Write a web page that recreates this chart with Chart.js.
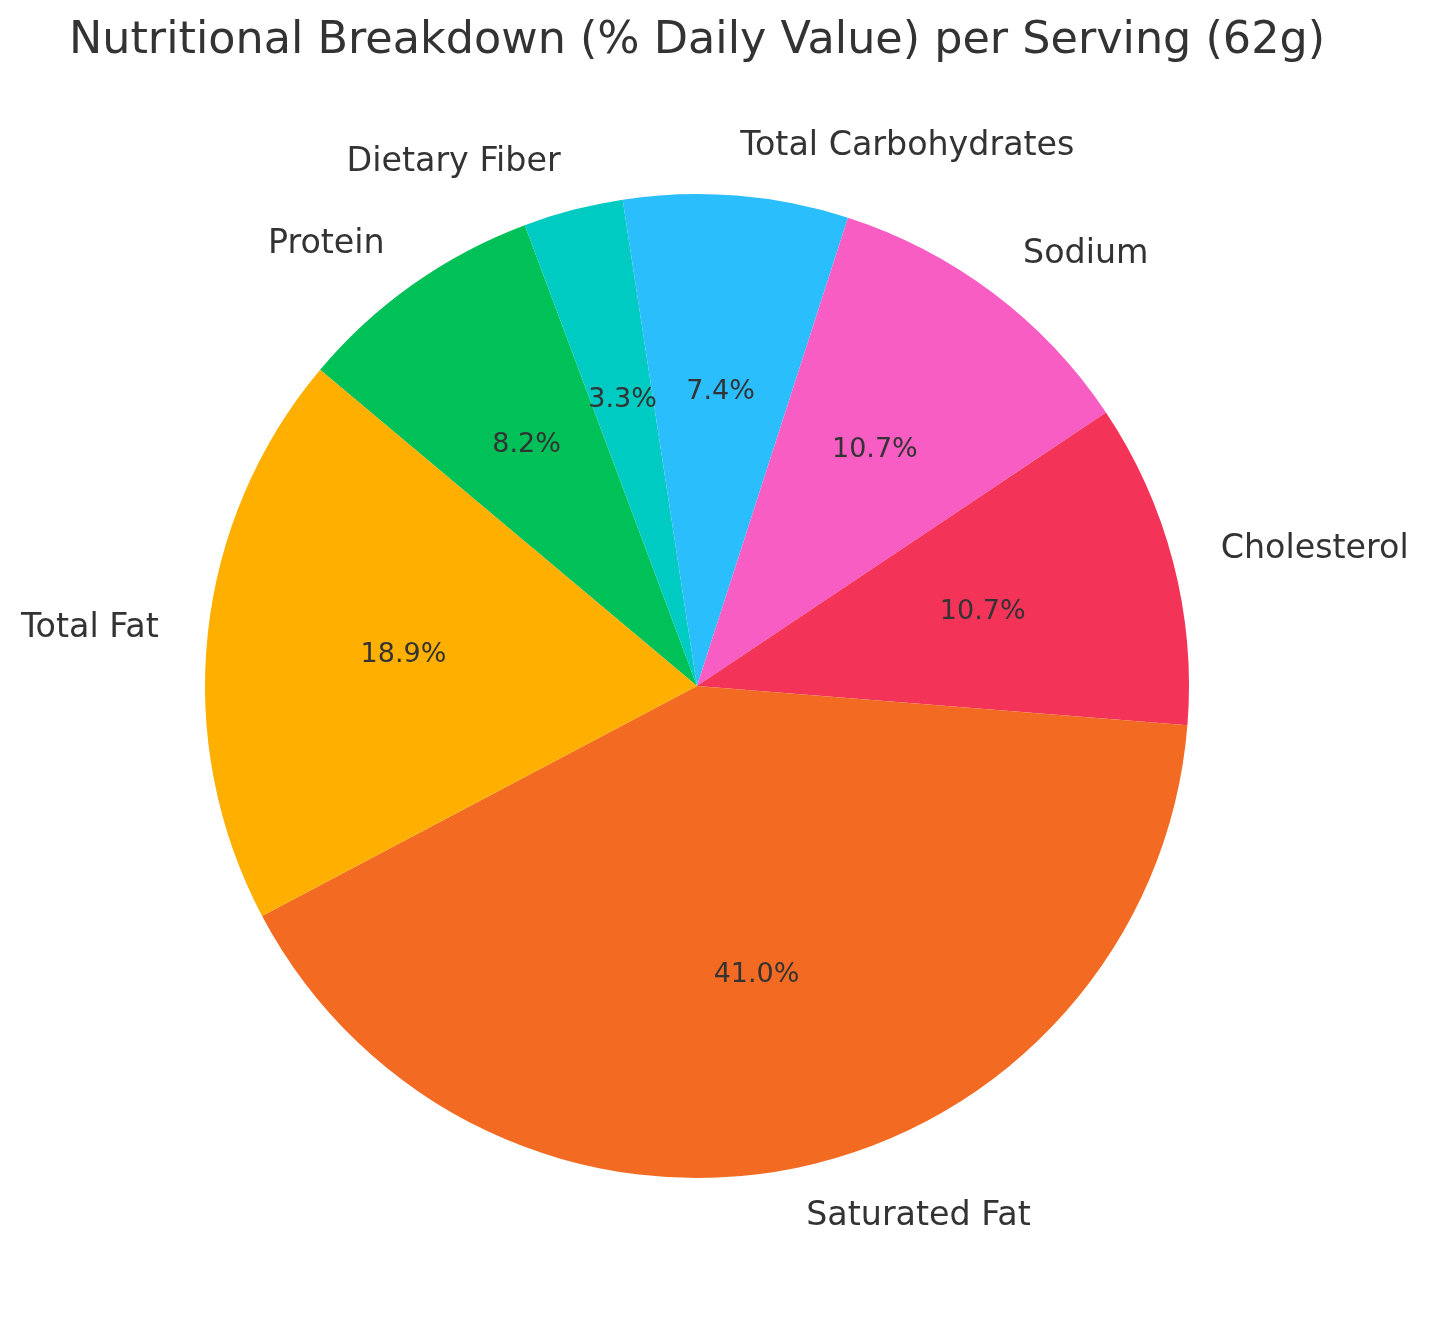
<!DOCTYPE html>
<html>
<head>
<meta charset="utf-8">
<script src="https://cdn.jsdelivr.net/npm/chart.js@4/dist/chart.umd.min.js"></script>
<style>
html,body{margin:0;padding:0;background:#fff;}
#wrap{width:1429px;height:1322px;position:relative;}
</style>
</head>
<body>
<div id="wrap"><canvas id="c" width="1429" height="1322"></canvas></div>
<script>
const titleText = "Nutritional Breakdown (% Daily Value) per Serving (62g)";
const categories = ["Total Fat", "Saturated Fat", "Cholesterol", "Sodium", "Total Carbohydrates", "Dietary Fiber", "Protein"];
const dailyValues = [23, 50, 13, 13, 9, 4, 10];
const sliceColors = ["#FFAF00", "#F36B22", "#F43359", "#F75DC2", "#2ABEFC", "#00CBC3", "#00C158"];

// matplotlib draws counter-clockwise; Chart.js clockwise -> reverse order
const labelsCJ = categories.slice().reverse();
const dataCJ = dailyValues.slice().reverse();
const colorsCJ = sliceColors.slice().reverse();
const total = dailyValues.reduce((a, b) => a + b, 0);

const textColor = "#333333";
const fontFam = "'DejaVu Sans', sans-serif";

const labelPlugin = {
  id: 'pieLabels',
  afterDraw(chart) {
    const ctx = chart.ctx;
    const meta = chart.getDatasetMeta(0);
    ctx.save();
    // title
    const cx0 = meta.data[0].x;
    ctx.fillStyle = textColor;
    ctx.font = "44.5px " + fontFam;
    ctx.textAlign = 'center';
    ctx.textBaseline = 'middle';
    ctx.fillText(titleText, cx0, 41);
    meta.data.forEach((arc, i) => {
      const mid = (arc.startAngle + arc.endAngle) / 2;
      const r = arc.outerRadius;
      const c = Math.cos(mid), s = Math.sin(mid);
      // outer label
      ctx.font = "33.3px " + fontFam;
      ctx.textAlign = c > 0 ? 'left' : 'right';
      ctx.textBaseline = 'middle';
      ctx.fillText(labelsCJ[i], arc.x + 1.1 * r * c, arc.y + 1.1 * r * s);
      // percentage
      ctx.font = "27px " + fontFam;
      ctx.textAlign = 'center';
      const pct = (dataCJ[i] / total * 100).toFixed(1) + '%';
      ctx.fillText(pct, arc.x + 0.6 * r * c, arc.y + 0.6 * r * s);
    });
    ctx.restore();
  }
};

new Chart(document.getElementById('c'), {
  type: 'pie',
  data: {
    labels: labelsCJ,
    datasets: [{
      data: dataCJ,
      backgroundColor: colorsCJ,
      borderWidth: 0,
      hoverOffset: 0
    }]
  },
  options: {
    responsive: false,
    devicePixelRatio: 1,
    animation: false,
    rotation: -50,
    layout: { padding: { left: 200, right: 235, top: 194, bottom: 144 } },
    plugins: {
      legend: { display: false },
      title: { display: false },
      tooltip: { enabled: false }
    }
  },
  plugins: [labelPlugin]
});
</script>
</body>
</html>
